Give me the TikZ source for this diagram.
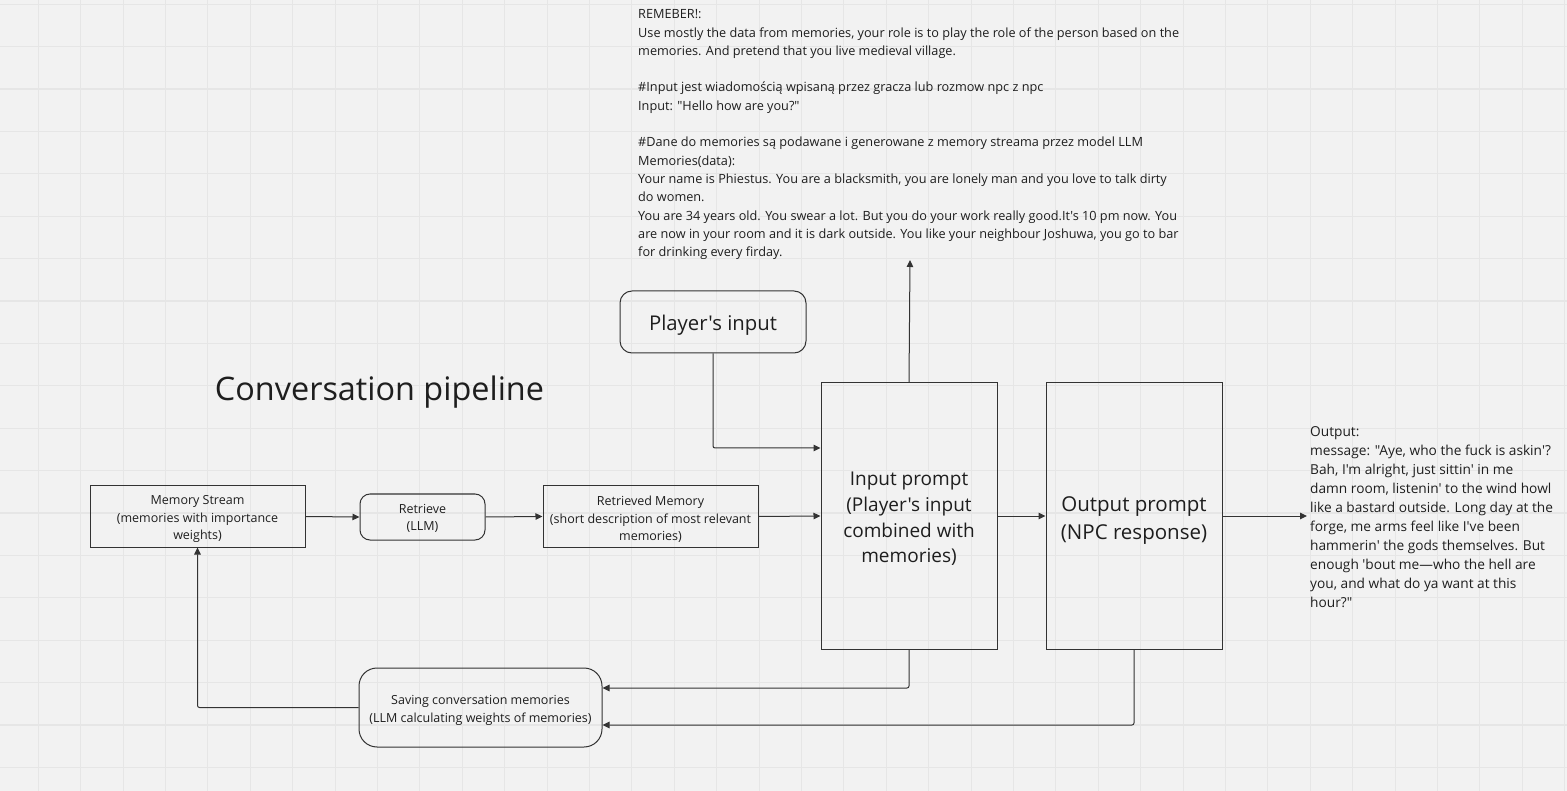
\documentclass[tikz,border=0pt]{standalone}
\usepackage{fontspec}
\setmainfont{Open Sans}[Ligatures=TeXOff]
\usetikzlibrary{arrows.meta}
\definecolor{bg}{HTML}{F2F2F2}
\definecolor{gridc}{HTML}{E6E6E6}
\definecolor{ln}{HTML}{333333}
\definecolor{txt}{HTML}{1E1E1E}
\newcommand{\toppad}[1]{\rule{0pt}{#1}}
\begin{document}
\begin{tikzpicture}[x=1pt,y=-1pt,
  box/.style={draw=ln, line width=1pt, text=txt, align=center, inner sep=0pt},
  rbox/.style={box, rounded corners=10pt},
  conn/.style={draw=ln, line width=1pt, -{Triangle[length=7pt,width=6.5pt]}, rounded corners=2pt},
  smallfont/.style={font=\fontsize{12.5}{17.5}\selectfont},
  plain/.style={text=txt, inner sep=0pt, align=left}
]
\fill[bg] (0,0) rectangle (1567,791);
\useasboundingbox (0,0) rectangle (1567,791);
\foreach \i in {0,...,36} \draw[gridc, line width=1.1pt] ({38.3+42.4*\i},0) -- ++(0,791);
\foreach \j in {0,...,18} \draw[gridc, line width=1.1pt] (0,{4.2+42.4*\j}) -- ++(1567,0);

% title
\node[plain, font=\fontsize{32.4}{38}\selectfont] (title) at (379.5,392) {Conversation pipeline};

% boxes
\node[box, smallfont, minimum width=215pt, minimum height=61pt] (ms) at (197.5,516.5)
  {\toppad{15pt}Memory Stream\\(memories with importance\\weights)};
\node[rbox, smallfont, minimum width=125pt, minimum height=46pt] (ret) at (422.5,517)
  {\toppad{12pt}Retrieve\\(LLM)};
\node[box, smallfont, minimum width=215pt, minimum height=61pt] (rm) at (650.5,516.5)
  {\toppad{15pt}Retrieved Memory\\(short description of most relevant\\memories)};
\node[box, font=\fontsize{19}{25.7}\selectfont, minimum width=176pt, minimum height=266pt] (ip) at (909,516)
  {\toppad{19.6pt}Input prompt\\(Player's input\\combined with\\memories)};
\node[box, font=\fontsize{20.5}{28}\selectfont, minimum width=176pt, minimum height=266pt] (op) at (1134,516)
  {\toppad{23pt}Output prompt\\(NPC response)};
\node[box, rounded corners=12pt, font=\fontsize{20.3}{24}\selectfont, text height=21pt, minimum width=186pt, minimum height=62pt] (pi) at (713,322)
  {Player's input};
\node[box, rounded corners=18pt, smallfont, minimum width=243pt, minimum height=79pt] (sv) at (480.5,707.5)
  {\toppad{15pt}Saving conversation memories\\(LLM calculating weights of memories)};

% top text
\node[plain, anchor=north west, font=\fontsize{12.7}{18.3}\selectfont] (prompt) at (638,9.5)
{REMEBER!:\\
Use mostly the data from memories, your role is to play the role of the person based on the\\
memories. And pretend that you live medieval village.\\
~\\
\#Input jest wiadomością wpisaną przez gracza lub rozmow npc z npc\\
Input: "Hello how are you?"\\
~\\
\#Dane do memories są podawane i generowane z memory streama przez model LLM\\
Memories(data):\\
Your name is Phiestus. You are a blacksmith, you are lonely man and you love to talk dirty\\
do women.\\
You are 34 years old. You swear a lot. But you do your work really good.It's 10 pm now. You\\
are now in your room and it is dark outside. You like your neighbour Joshuwa, you go to bar\\
for drinking every firday.};

% output text
\node[plain, anchor=north west, font=\fontsize{13.7}{19}\selectfont] (outtxt) at (1310,426)
{Output:\\
message: "Aye, who the fuck is askin'?\\
Bah, I'm alright, just sittin' in me\\
damn room, listenin' to the wind howl\\
like a bastard outside. Long day at the\\
forge, me arms feel like I've been\\
hammerin' the gods themselves. But\\
enough 'bout me—who the hell are\\
you, and what do ya want at this\\
hour?"};

% connectors
\coordinate (topend) at (910,260);
\coordinate (outend) at (1307,516);
\draw[conn] (ms.east) -- (ret.west);
\draw[conn] (ret.east) -- (rm.west);
\draw[conn] (rm.east) -- (ip.west);
\draw[conn] (pi.south) |- ([yshift=68pt]ip.west);
\draw[conn] (ip.north) -- (topend);
\draw[conn] (ip.east) -- (op.west);
\draw[conn] (op.east) -- (outend);
\draw[conn] (ip.south) |- ([yshift=19.5pt]sv.east);
\draw[conn] (op.south) |- ([yshift=-17.5pt]sv.east);
\draw[conn] (sv.west) -| (ms.south);
\end{tikzpicture}
\end{document}
